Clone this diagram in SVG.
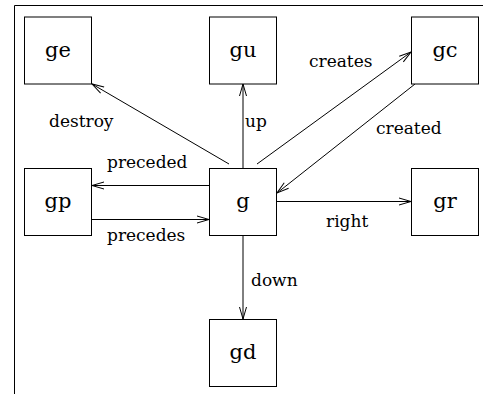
<svg xmlns="http://www.w3.org/2000/svg" width="483" height="394" viewBox="0 0 483 394">
  <style>
    .box rect { fill: #fff; stroke: #000; stroke-width: 1; }
    .box text { font-size: 21px; text-anchor: middle; fill: #000; }
    .edge line { stroke: #000; stroke-width: 1; marker-end: url(#arrow); }
    .lbl { font-size: 17px; fill: #000; }
    .frame { fill: none; stroke: #000; stroke-width: 1; }
  </style>
  <defs>
    <marker id="arrow" markerUnits="userSpaceOnUse" markerWidth="14" markerHeight="9" refX="12" refY="3.5" orient="auto" overflow="visible">
      <path d="M0,0 L12,3.5 L0,7" fill="none" stroke="#000" stroke-width="1"/>
    </marker>
  </defs>
  <rect width="483" height="394" fill="#fff"/>

  <!-- page frame: top and left edges -->
  <polyline class="frame" points="14.5,394 14.5,5.5 483,5.5"/>

  <!-- connectors -->
  <g id="connectors" class="edge">
    <line x1="229" y1="164" x2="92" y2="84"/>
    <line x1="243" y1="168" x2="243" y2="84"/>
    <line x1="257" y1="164" x2="411" y2="52"/>
    <line x1="415" y1="84" x2="277" y2="193"/>
    <line x1="209" y1="185.5" x2="92" y2="185.5"/>
    <line x1="92" y1="219.5" x2="209" y2="219.5"/>
    <line x1="277" y1="201.5" x2="411" y2="201.5"/>
    <line x1="243" y1="236" x2="243" y2="319"/>
  </g>

  <g id="edge-labels" font-family="DejaVu Serif, serif">
    <text class="lbl" x="309" y="67">creates</text>
    <text class="lbl" x="49" y="127">destroy</text>
    <text class="lbl" x="245" y="127">up</text>
    <text class="lbl" x="376" y="134">created</text>
    <text class="lbl" x="107" y="168">preceded</text>
    <text class="lbl" x="107" y="241">precedes</text>
    <text class="lbl" x="326" y="227">right</text>
    <text class="lbl" x="251" y="286">down</text>
  </g>

  <!-- nodes -->
  <g id="nodes" font-family="DejaVu Serif, serif">
    <g id="ge" class="box"><rect x="24.5" y="17" width="67" height="67"/><text x="58" y="57">ge</text></g>
    <g id="gu" class="box"><rect x="209.5" y="17" width="67" height="67"/><text x="243" y="57">gu</text></g>
    <g id="gc" class="box"><rect x="411.5" y="17" width="67" height="67"/><text x="445" y="57">gc</text></g>
    <g id="gp" class="box"><rect x="24.5" y="168.5" width="67" height="67"/><text x="58" y="208">gp</text></g>
    <g id="g" class="box"><rect x="209.5" y="168.5" width="67" height="67"/><text x="243" y="208">g</text></g>
    <g id="gr" class="box"><rect x="411.5" y="168.5" width="67" height="67"/><text x="445" y="208">gr</text></g>
    <g id="gd" class="box"><rect x="209.5" y="319.5" width="67" height="67"/><text x="243" y="359">gd</text></g>
  </g>
</svg>
